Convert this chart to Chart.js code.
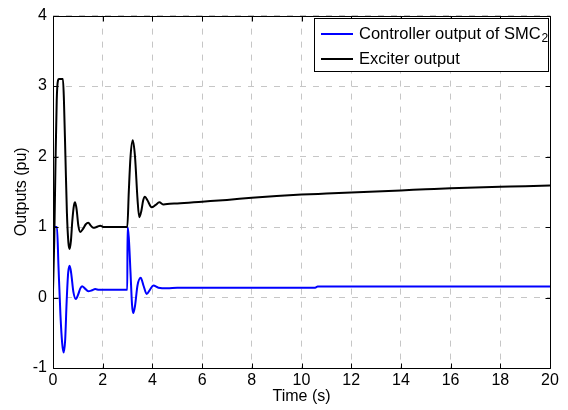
<!DOCTYPE html>
<html>
<head>
<meta charset="utf-8">
<script src="https://cdn.jsdelivr.net/npm/chart.js@4.4.1/dist/chart.umd.min.js"></script>
<style>
  html, body { margin: 0; padding: 0; background: #fff; }
  #wrap { width: 568px; height: 410px; }
</style>
</head>
<body>
<div id="wrap"><canvas id="c" width="568" height="410"></canvas></div>
<script>
// ---- Data ----
const controllerTime = [0, 0.16, 0.22, 0.3, 0.37, 0.43, 0.49, 0.55, 0.61, 0.67, 0.73, 0.82, 0.92, 1.02, 1.1, 1.17, 1.28, 1.42, 1.55, 1.7, 1.85, 2.0, 2.99, 3.0, 3.05, 3.12, 3.18, 3.23, 3.3, 3.4, 3.53, 3.65, 3.77, 3.9, 4.04, 4.24, 4.6, 5, 10.55, 10.65, 20];
const controllerOutput = [1.0, 1.0, 0.45, -0.25, -0.65, -0.78, -0.6, -0.05, 0.35, 0.45, 0.35, 0.08, -0.02, 0.05, 0.13, 0.16, 0.13, 0.09, 0.1, 0.12, 0.11, 0.11, 0.11, 1.0, 0.85, 0.35, -0.1, -0.22, -0.12, 0.17, 0.28, 0.16, 0.05, 0.11, 0.17, 0.14, 0.13, 0.14, 0.14, 0.155, 0.155];

const exciterTime = [0, 0.05, 0.1, 0.15, 0.2, 0.24, 0.4, 0.44, 0.5, 0.56, 0.62, 0.67, 0.72, 0.78, 0.84, 0.89, 0.95, 1.02, 1.1, 1.2, 1.32, 1.42, 1.52, 1.62, 1.75, 1.9, 2.05, 2.2, 2.99, 3.05, 3.12, 3.21, 3.3, 3.4, 3.47, 3.55, 3.63, 3.7, 3.8, 3.97, 4.12, 4.28, 4.45, 4.7, 5, 6, 7, 8, 9, 10, 11, 12, 13, 14, 15, 16, 17, 18, 19, 20];
const exciterOutput = [0.1, 0.8, 1.9, 2.8, 3.08, 3.1, 3.1, 2.8, 2.0, 1.2, 0.78, 0.69, 0.8, 1.1, 1.3, 1.35, 1.25, 1.02, 0.93, 0.97, 1.04, 1.06, 1.02, 0.99, 1.0, 1.02, 1.0, 1.0, 1.0, 1.5, 2.0, 2.23, 2.0, 1.4, 1.14, 1.22, 1.38, 1.43, 1.38, 1.28, 1.31, 1.35, 1.32, 1.33, 1.335, 1.36, 1.385, 1.415, 1.44, 1.46, 1.475, 1.49, 1.505, 1.52, 1.535, 1.55, 1.56, 1.57, 1.58, 1.59];

const xTicks = [0, 2, 4, 6, 8, 10, 12, 14, 16, 18, 20];
const yTicks = [-1, 0, 1, 2, 3, 4];
const seriesNames = ['Controller output of SMC', 'Exciter output'];
const seriesSub = ['2', ''];
const seriesColors = ['#0000ff', '#000000'];
const xTitle = 'Time (s)';
const yTitle = 'Outputs (pu)';

const FONT = 'Arial, "Liberation Sans", Helvetica, sans-serif';

const toPts = (xs, ys) => xs.map((x, i) => ({ x: x, y: ys[i] }));

const boxPlugin = {
  id: 'matlabBox',
  afterDraw(chart) {
    const { ctx, chartArea: a, scales } = chart;
    ctx.save();
    ctx.strokeStyle = '#000';
    ctx.lineWidth = 1;
    ctx.beginPath();
    const L = Math.round(a.left) + 0.5, R = Math.round(a.right) + 0.5;
    const T = Math.round(a.top) + 0.5, B = Math.round(a.bottom) + 0.5;
    ctx.rect(L, T, R - L, B - T);
    const tl = 5;
    xTicks.forEach(v => {
      const px = Math.round(scales.x.getPixelForValue(v)) + 0.5;
      ctx.moveTo(px, B); ctx.lineTo(px, B - tl);
      ctx.moveTo(px, T); ctx.lineTo(px, T + tl);
    });
    yTicks.forEach(v => {
      const py = Math.round(scales.y.getPixelForValue(v)) + 0.5;
      ctx.moveTo(L, py); ctx.lineTo(L + tl, py);
      ctx.moveTo(R, py); ctx.lineTo(R - tl, py);
    });
    ctx.stroke();

    // legend box
    const lx = 314.5, ly = 18.5, lw = 234, lh = 53;
    ctx.fillStyle = '#fff';
    ctx.fillRect(lx, ly, lw, lh);
    ctx.strokeRect(lx, ly, lw, lh);
    const rows = [34, 59];
    ctx.textBaseline = 'middle';
    ctx.textAlign = 'left';
    seriesNames.forEach((name, i) => {
      const y = rows[i];
      ctx.strokeStyle = seriesColors[i];
      ctx.lineWidth = 2;
      ctx.beginPath();
      ctx.moveTo(321, y); ctx.lineTo(353, y);
      ctx.stroke();
      ctx.fillStyle = '#000';
      ctx.font = '16.5px ' + FONT;
      ctx.fillText(name, 359, y);
      if (seriesSub[i]) {
        const w = ctx.measureText(name).width;
        ctx.font = '12px ' + FONT;
        ctx.fillText(seriesSub[i], 359 + w + 1, y + 5);
      }
    });
    ctx.restore();
  }
};

new Chart(document.getElementById('c'), {
  type: 'line',
  data: {
    datasets: [
      {
        label: seriesNames[1],
        data: toPts(exciterTime, exciterOutput),
        borderColor: seriesColors[1],
        borderWidth: 2,
        pointRadius: 0,
        cubicInterpolationMode: 'monotone',
        fill: false,
        order: 0
      },
      {
        label: seriesNames[0],
        data: toPts(controllerTime, controllerOutput),
        borderColor: seriesColors[0],
        borderWidth: 2,
        pointRadius: 0,
        cubicInterpolationMode: 'monotone',
        fill: false,
        order: 1
      }
    ]
  },
  options: {
    responsive: false,
    animation: false,
    devicePixelRatio: 1,
    layout: { padding: { top: 14, right: 18, left: 0, bottom: 0 } },
    plugins: { legend: { display: false }, tooltip: { enabled: false } },
    scales: {
      x: {
        type: 'linear',
        min: 0, max: 20,
        afterBuildTicks: s => { s.ticks = xTicks.map(v => ({ value: v })); },
        afterFit: s => { s.height = 42; },
        ticks: { color: '#000', font: { family: FONT, size: 16 }, padding: 3, maxRotation: 0, autoSkip: false },
        grid: { color: '#c6c6c6', lineWidth: 1, drawTicks: false },
        border: { display: false, dash: [6, 7] },
        title: { display: true, text: xTitle, color: '#000', font: { family: FONT, size: 16 }, padding: { top: 0, bottom: 4 } }
      },
      y: {
        type: 'linear',
        min: -1, max: 4,
        afterBuildTicks: s => { s.ticks = yTicks.map(v => ({ value: v })); },
        afterFit: s => { s.width = 53; },
        ticks: { color: '#000', font: { family: FONT, size: 16 }, padding: 6, autoSkip: false },
        grid: { color: '#c6c6c6', lineWidth: 1, drawTicks: false },
        border: { display: false, dash: [6, 7] },
        title: { display: true, text: yTitle, color: '#000', font: { family: FONT, size: 16 }, padding: { top: 12, bottom: 0 } }
      }
    }
  },
  plugins: [boxPlugin]
});
</script>
</body>
</html>
